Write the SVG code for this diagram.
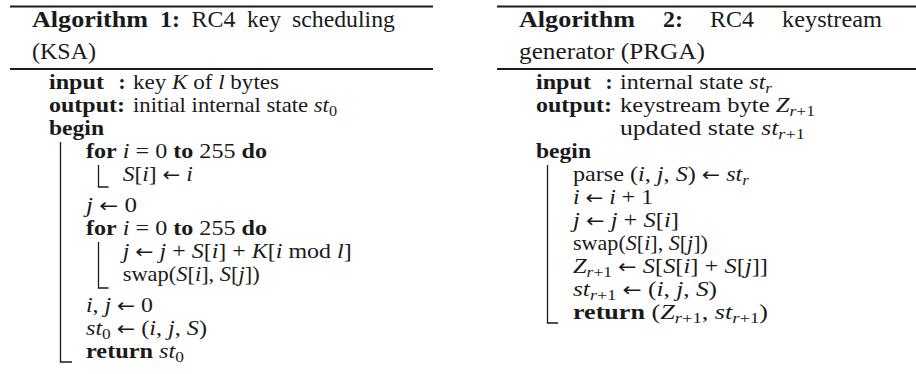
<svg xmlns="http://www.w3.org/2000/svg" width="916" height="374" viewBox="0 0 916 374">
<style>
text { font-family: "Liberation Serif", "Times New Roman", serif; fill: #1a1a1a; }
.h { font-size: 23px; }
.t { font-size: 21px; }
.b { font-weight: bold; }
.i { font-style: italic; }
.s { font-size: 15px; baseline-shift: -4px; }
.a { font-family: "DejaVu Sans", "Liberation Sans", sans-serif; font-size: 19px; }
.rule { stroke: #1a1a1a; stroke-width: 1.8; }
.bar { stroke: #1a1a1a; stroke-width: 1.3; fill: none; }
</style>
<rect width="916" height="374" fill="#ffffff"/>

<g id="alg1">
  <g id="alg1-caption">
    <line class="rule" x1="10" y1="6.5" x2="433" y2="6.5"/>
    <text class="h b" x="32" y="27" textLength="116" lengthAdjust="spacingAndGlyphs">Algorithm</text>
    <text class="h b" x="160" y="27" textLength="20" lengthAdjust="spacingAndGlyphs">1:</text>
    <text class="h" x="191.5" y="27" textLength="44" lengthAdjust="spacingAndGlyphs">RC4</text>
    <text class="h" x="247" y="27" textLength="34" lengthAdjust="spacingAndGlyphs">key</text>
    <text class="h" x="292" y="27" textLength="103" lengthAdjust="spacingAndGlyphs">scheduling</text>
    <text class="h" x="32" y="59" textLength="64" lengthAdjust="spacingAndGlyphs">(KSA)</text>
    <line class="rule" x1="10" y1="69" x2="433" y2="69"/>
  </g>
  <g id="alg1-io">
    <text class="t b" x="49" y="89" textLength="55" lengthAdjust="spacingAndGlyphs">input</text>
    <text class="t b" x="118.5" y="89">:</text>
    <text class="t" x="133" y="89" textLength="146" lengthAdjust="spacingAndGlyphs">key <tspan class="i">K</tspan> of <tspan class="i">l</tspan> bytes</text>
    <text class="t b" x="49" y="112" textLength="76" lengthAdjust="spacingAndGlyphs">output:</text>
    <text class="t" x="133" y="112" textLength="204" lengthAdjust="spacingAndGlyphs">initial internal state <tspan class="i">st</tspan><tspan class="s">0</tspan></text>
  </g>
  <g id="alg1-body">
    <text class="t b" x="49" y="135" textLength="55" lengthAdjust="spacingAndGlyphs">begin</text>
    <path class="bar" d="M60.5 142 V362 H72"/>
    <text class="t" x="86" y="158" textLength="181" lengthAdjust="spacingAndGlyphs"><tspan class="b">for</tspan> <tspan class="i">i</tspan> = 0 <tspan class="b">to</tspan> 255 <tspan class="b">do</tspan></text>
    <path class="bar" d="M98.5 165 V187 H108.5"/>
    <text class="t" x="122.7" y="181" textLength="70" lengthAdjust="spacingAndGlyphs"><tspan class="i">S</tspan>[<tspan class="i">i</tspan>] <tspan class="a">←</tspan> <tspan class="i">i</tspan></text>
    <text class="t" x="86" y="212" textLength="51" lengthAdjust="spacingAndGlyphs"><tspan class="i">j</tspan> <tspan class="a">←</tspan> 0</text>
    <text class="t" x="86" y="235" textLength="181" lengthAdjust="spacingAndGlyphs"><tspan class="b">for</tspan> <tspan class="i">i</tspan> = 0 <tspan class="b">to</tspan> 255 <tspan class="b">do</tspan></text>
    <path class="bar" d="M98.5 242 V288 H108.5"/>
    <text class="t" x="122.7" y="258" textLength="229" lengthAdjust="spacingAndGlyphs"><tspan class="i">j</tspan> <tspan class="a">←</tspan> <tspan class="i">j</tspan> + <tspan class="i">S</tspan>[<tspan class="i">i</tspan>] + <tspan class="i">K</tspan>[<tspan class="i">i</tspan> mod <tspan class="i">l</tspan>]</text>
    <text class="t" x="122.7" y="281" textLength="137" lengthAdjust="spacingAndGlyphs">swap(<tspan class="i">S</tspan>[<tspan class="i">i</tspan>], <tspan class="i">S</tspan>[<tspan class="i">j</tspan>])</text>
    <text class="t" x="86" y="312" textLength="67" lengthAdjust="spacingAndGlyphs"><tspan class="i">i</tspan>, <tspan class="i">j</tspan> <tspan class="a">←</tspan> 0</text>
    <text class="t" x="86" y="335" textLength="121" lengthAdjust="spacingAndGlyphs"><tspan class="i">st</tspan><tspan class="s">0</tspan> <tspan class="a">←</tspan> (<tspan class="i">i</tspan>, <tspan class="i">j</tspan>, <tspan class="i">S</tspan>)</text>
    <text class="t" x="86" y="358" textLength="98" lengthAdjust="spacingAndGlyphs"><tspan class="b">return</tspan> <tspan class="i">st</tspan><tspan class="s">0</tspan></text>
  </g>
</g>

<g id="alg2">
  <g id="alg2-caption">
    <line class="rule" x1="497" y1="6.5" x2="916" y2="6.5"/>
    <text class="h b" x="519" y="27" textLength="116" lengthAdjust="spacingAndGlyphs">Algorithm</text>
    <text class="h b" x="663" y="27" textLength="20" lengthAdjust="spacingAndGlyphs">2:</text>
    <text class="h" x="710" y="27" textLength="44" lengthAdjust="spacingAndGlyphs">RC4</text>
    <text class="h" x="782" y="27" textLength="100" lengthAdjust="spacingAndGlyphs">keystream</text>
    <text class="h" x="519" y="59" textLength="186" lengthAdjust="spacingAndGlyphs">generator (PRGA)</text>
    <line class="rule" x1="497" y1="69" x2="916" y2="69"/>
  </g>
  <g id="alg2-io">
    <text class="t b" x="536" y="89" textLength="55" lengthAdjust="spacingAndGlyphs">input</text>
    <text class="t b" x="605.5" y="89">:</text>
    <text class="t" x="620" y="89" textLength="152" lengthAdjust="spacingAndGlyphs">internal state <tspan class="i">st</tspan><tspan class="s i">r</tspan></text>
    <text class="t b" x="536" y="112" textLength="76" lengthAdjust="spacingAndGlyphs">output:</text>
    <text class="t" x="620" y="112" textLength="195" lengthAdjust="spacingAndGlyphs">keystream byte <tspan class="i">Z</tspan><tspan class="s"><tspan class="i">r</tspan>+1</tspan></text>
    <text class="t" x="620" y="135" textLength="185" lengthAdjust="spacingAndGlyphs">updated state <tspan class="i">st</tspan><tspan class="s"><tspan class="i">r</tspan>+1</tspan></text>
  </g>
  <g id="alg2-body">
    <text class="t b" x="536" y="158" textLength="55" lengthAdjust="spacingAndGlyphs">begin</text>
    <path class="bar" d="M547.5 165 V323 H558"/>
    <text class="t" x="573" y="181" textLength="176" lengthAdjust="spacingAndGlyphs">parse (<tspan class="i">i</tspan>, <tspan class="i">j</tspan>, <tspan class="i">S</tspan>) <tspan class="a">←</tspan> <tspan class="i">st</tspan><tspan class="s i">r</tspan></text>
    <text class="t" x="573" y="204" textLength="80" lengthAdjust="spacingAndGlyphs"><tspan class="i">i</tspan> <tspan class="a">←</tspan> <tspan class="i">i</tspan> + 1</text>
    <text class="t" x="573" y="227" textLength="106" lengthAdjust="spacingAndGlyphs"><tspan class="i">j</tspan> <tspan class="a">←</tspan> <tspan class="i">j</tspan> + <tspan class="i">S</tspan>[<tspan class="i">i</tspan>]</text>
    <text class="t" x="573" y="250" textLength="135" lengthAdjust="spacingAndGlyphs">swap(<tspan class="i">S</tspan>[<tspan class="i">i</tspan>], <tspan class="i">S</tspan>[<tspan class="i">j</tspan>])</text>
    <text class="t" x="573" y="273" textLength="195" lengthAdjust="spacingAndGlyphs"><tspan class="i">Z</tspan><tspan class="s"><tspan class="i">r</tspan>+1</tspan> <tspan class="a">←</tspan> <tspan class="i">S</tspan>[<tspan class="i">S</tspan>[<tspan class="i">i</tspan>] + <tspan class="i">S</tspan>[<tspan class="i">j</tspan>]]</text>
    <text class="t" x="573" y="296" textLength="144" lengthAdjust="spacingAndGlyphs"><tspan class="i">st</tspan><tspan class="s"><tspan class="i">r</tspan>+1</tspan> <tspan class="a">←</tspan> (<tspan class="i">i</tspan>, <tspan class="i">j</tspan>, <tspan class="i">S</tspan>)</text>
    <text class="t" x="573" y="319" textLength="195" lengthAdjust="spacingAndGlyphs"><tspan class="b">return</tspan> (<tspan class="i">Z</tspan><tspan class="s"><tspan class="i">r</tspan>+1</tspan>, <tspan class="i">st</tspan><tspan class="s"><tspan class="i">r</tspan>+1</tspan>)</text>
  </g>
</g>
</svg>
